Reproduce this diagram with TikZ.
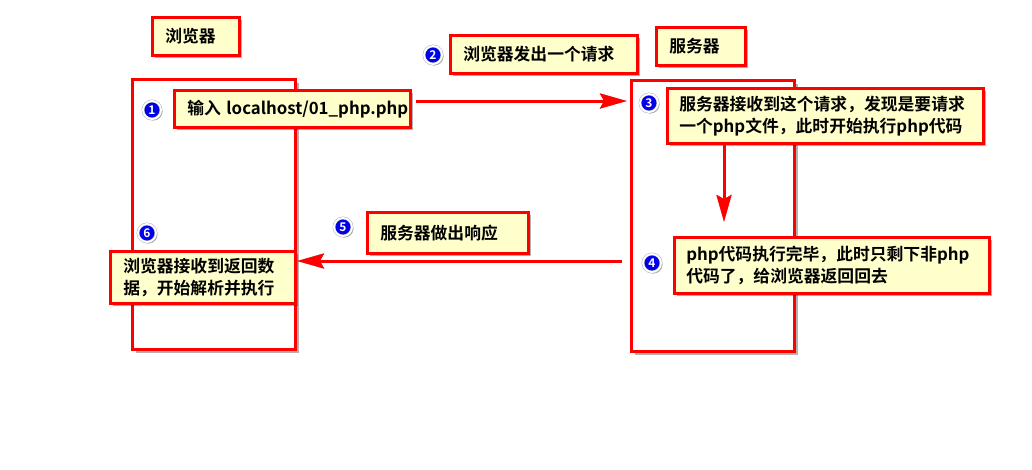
\documentclass[tikz,border=0pt]{standalone}
\usepackage{fontspec}
\setmainfont{Noto Sans CJK SC}[BoldFont={Noto Sans CJK SC Bold}]
\usetikzlibrary{shadows,arrows.meta}
\definecolor{boxyellow}{RGB}{255,255,204}
\definecolor{numblue}{RGB}{0,0,235}
\begin{document}
\begin{tikzpicture}[x=1pt,y=-1pt,
  every node/.style={font=\fontsize{16.8}{22}\selectfont\bfseries},
  shadowed/.style={drop shadow={shadow xshift=3pt,shadow yshift=-3pt,fill=black,opacity=0.3}},
  frame/.style={draw=red,fill=white,line width=3pt,anchor=north west,inner sep=0pt,shadowed},
  note/.style={draw=red,line width=2.5pt,fill=boxyellow,anchor=north west,inner xsep=13pt,inner ysep=0pt,align=left,shadowed},
  num/.style={circle,fill=numblue,draw=black!30,line width=0.5pt,double=white,double distance=1.8pt,
    minimum size=18pt,inner sep=0pt,text=white,
    font=\fontsize{12}{12}\selectfont\bfseries,
    drop shadow={shadow xshift=1.5pt,shadow yshift=-1.5pt,fill=black,opacity=0.35}},
  flow/.style={draw=red,line width=3pt,-{Stealth[length=27pt,width=15pt,inset=4pt]}},
  flowshadow/.style={draw=black,opacity=0.25,line width=3pt,xshift=2pt,yshift=-2pt,-{Stealth[length=27pt,width=15pt,inset=4pt]}}
]
\useasboundingbox[fill=white] (0,0) rectangle (1032,469);

% large frames
\node[frame,minimum width=163pt,minimum height=270pt] (browser) at (131,78) {};
\node[frame,minimum width=163pt,minimum height=271pt] (server) at (630,79) {};

% title labels
\node[note,minimum width=87pt,minimum height=38pt,text width=61pt] (lab1) at (151,16) {浏览器};
\node[note,minimum width=89pt,minimum height=38pt,text width=63pt] (lab2) at (655,26) {服务器};

% step notes
\node[note,minimum width=236pt,minimum height=37pt,text width=210pt] (b1) at (173,89) {输入~\mbox{localhost/01\_php.php}};
\node[note,minimum width=187pt,minimum height=38pt,text width=161pt] (b2) at (449,34) {浏览器发出一个请求};
\node[note,minimum width=316pt,minimum height=55pt,text width=292pt,inner xsep=12pt] (b3) at (666,87) {服务器接收到这个请求，发现是要请求\\一个php文件，此时开始执行php代码};
\node[note,minimum width=315pt,minimum height=56pt,text width=291pt,inner xsep=12pt] (b4) at (673,236) {php代码执行完毕，此时只剩下非php\\代码了，给浏览器返回回去};
\node[note,minimum width=161pt,minimum height=41pt,text width=135pt] (b5) at (366,211) {服务器做出响应};
\node[note,minimum width=185pt,minimum height=52pt,text width=159pt] (b6) at (109,250) {浏览器接收到返回数\\据，开始解析并执行};

% numbered markers
\node[num] (c1) at (152,110) {1};
\node[num] (c2) at (433,55) {2};
\node[num] (c3) at (649,103) {3};
\node[num] (c4) at (652,263) {4};
\node[num] (c5) at (343,227) {5};
\node[num] (c6) at (147,233) {6};

% connector end points
\coordinate (a1s) at (416,101);
\coordinate (a1e) at (627,101);
\coordinate (a3s) at (724,145);
\coordinate (a3e) at (724,222);
\coordinate (a5s) at (622,261);
\coordinate (a5e) at (297,261);

% arrows with shadows
\draw[flowshadow] (a1s) -- (a1e);
\draw[flow] (a1s) -- (a1e);
\draw[flowshadow] (a3s) -- (a3e);
\draw[flow] (a3s) -- (a3e);
\draw[flowshadow] (a5s) -- (a5e);
\draw[flow] (a5s) -- (a5e);
\end{tikzpicture}
\end{document}
